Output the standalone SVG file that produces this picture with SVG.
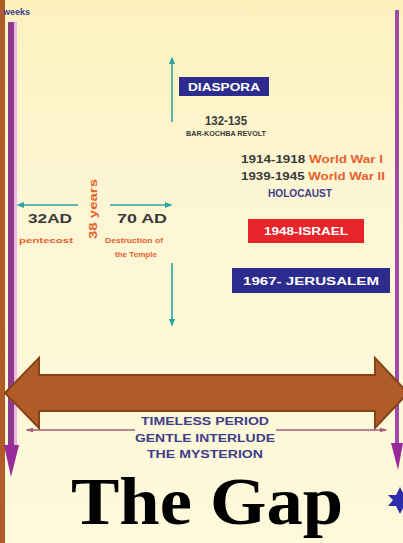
<svg xmlns="http://www.w3.org/2000/svg" width="403" height="543" viewBox="0 0 403 543">
<defs>
<linearGradient id="bg" x1="0" y1="0" x2="0" y2="1">
<stop offset="0" stop-color="#fdf1bd"/>
<stop offset="0.35" stop-color="#fdf6d4"/>
<stop offset="1" stop-color="#fdf9da"/>
</linearGradient>
<marker id="tealHead" viewBox="0 0 10 10" refX="8" refY="5" markerWidth="5" markerHeight="5" orient="auto-start-reverse">
<path d="M0,1 L10,5 L0,9 z" fill="#2aa5a0"/>
</marker>
<marker id="thinHead" viewBox="0 0 10 10" refX="8" refY="5" markerWidth="5" markerHeight="5" orient="auto-start-reverse">
<path d="M0,2 L10,5 L0,8 z" fill="#a0607a"/>
</marker>
<style>
.sans{font-family:"Liberation Sans",Arial,sans-serif;font-weight:bold}
.dark{fill:#3a3a3a}
.orange{fill:#e8602e}
.navy{fill:#3d3d8c}
.white{fill:#ffffff}
.teal{stroke:#2aa5a0;stroke-width:1.6;fill:none}
.boxblue{fill:#2d2c8e}
.boxred{fill:#e8242b}
</style>
</defs>
<rect x="0" y="0" width="403" height="543" fill="url(#bg)"/>

<g id="frame">
<rect x="0" y="0" width="5" height="543" fill="#b05c28"/>
<rect x="14" y="22" width="3" height="430" fill="#f2b6e6"/>
<rect x="8" y="22" width="6" height="430" fill="#8e3a8e"/>
<polygon points="4,445 19,445 11,477" fill="#9a2a9a"/>
<rect x="395" y="10" width="4" height="440" fill="#a04aa8"/>
<polygon points="391,443 403,443 398,470" fill="#9a2a9a"/>
<polygon points="400,487 404,495 412,495 407,500 412,506 404,506 400,514 396,506 388,506 393,500 388,495 396,495" fill="#2d2caa"/>
</g>

<g id="weeks">
<text x="3" y="15" class="sans navy" font-size="9">weeks</text>
</g>

<g id="connectors">
<line x1="172" y1="122" x2="172" y2="58" class="teal" marker-end="url(#tealHead)"/>
<line x1="172" y1="263" x2="172" y2="325" class="teal" marker-end="url(#tealHead)"/>
<line x1="78" y1="205" x2="18" y2="205" class="teal" marker-end="url(#tealHead)"/>
<line x1="110" y1="205" x2="171" y2="205" class="teal" marker-end="url(#tealHead)"/>
<line x1="27" y1="430" x2="135" y2="430" stroke="#a0607a" stroke-width="1.5" marker-start="url(#thinHead)"/>
<line x1="276" y1="430" x2="386" y2="430" stroke="#a0607a" stroke-width="1.5" marker-end="url(#thinHead)"/>
</g>

<g id="diaspora">
<rect x="179" y="77" width="90" height="19" class="boxblue"/>
<text x="224" y="91" text-anchor="middle" class="sans white" font-size="10" textLength="72" lengthAdjust="spacingAndGlyphs">DIASPORA</text>
</g>

<g id="barkochba">
<text x="226" y="125" text-anchor="middle" class="sans dark" font-size="13" textLength="42" lengthAdjust="spacingAndGlyphs">132-135</text>
<text x="226" y="136" text-anchor="middle" class="sans dark" font-size="7" textLength="80" lengthAdjust="spacingAndGlyphs">BAR-KOCHBA REVOLT</text>
</g>

<g id="wars">
<text x="241" y="163" class="sans" font-size="10" textLength="142" lengthAdjust="spacingAndGlyphs"><tspan class="dark">1914-1918 </tspan><tspan class="orange">World War I</tspan></text>
<text x="241" y="180" class="sans" font-size="10" textLength="144" lengthAdjust="spacingAndGlyphs"><tspan class="dark">1939-1945 </tspan><tspan class="orange">World War II</tspan></text>
<text x="300" y="197" text-anchor="middle" class="sans navy" font-size="10" textLength="64" lengthAdjust="spacingAndGlyphs">HOLOCAUST</text>
</g>

<g id="israel">
<rect x="248" y="219" width="116" height="24" class="boxred"/>
<text x="306" y="235" text-anchor="middle" class="sans white" font-size="11" textLength="84" lengthAdjust="spacingAndGlyphs">1948-ISRAEL</text>
</g>

<g id="jerusalem">
<rect x="232" y="268" width="158" height="25" class="boxblue"/>
<text x="311" y="285" text-anchor="middle" class="sans white" font-size="11" textLength="136" lengthAdjust="spacingAndGlyphs">1967- JERUSALEM</text>
</g>

<g id="pentecost">
<text x="50" y="223" text-anchor="middle" class="sans dark" font-size="12" textLength="44" lengthAdjust="spacingAndGlyphs">32AD</text>
<text x="46" y="243" text-anchor="middle" class="sans orange" font-size="8" textLength="54" lengthAdjust="spacingAndGlyphs">pentecost</text>
</g>

<g id="years38">
<text transform="translate(97,209) rotate(-90)" text-anchor="middle" class="sans orange" font-size="11" textLength="60" lengthAdjust="spacingAndGlyphs">38 years</text>
</g>

<g id="temple">
<text x="142" y="223" text-anchor="middle" class="sans dark" font-size="12" textLength="50" lengthAdjust="spacingAndGlyphs">70 AD</text>
<text x="134" y="243" text-anchor="middle" class="sans orange" font-size="8" textLength="58" lengthAdjust="spacingAndGlyphs">Destruction of</text>
<text x="136" y="257" text-anchor="middle" class="sans orange" font-size="8" textLength="42" lengthAdjust="spacingAndGlyphs">the Temple</text>
</g>

<g id="gap-arrow">
<polygon points="5,393 39,358 39,375 375,375 375,358 408,393 375,428 375,411 39,411 39,428" fill="#b05c28" stroke="#86431a" stroke-width="2" stroke-linejoin="miter"/>
</g>

<g id="timeless">
<text x="205" y="425" text-anchor="middle" class="sans navy" font-size="10.5" textLength="128" lengthAdjust="spacingAndGlyphs">TIMELESS PERIOD</text>
<text x="205" y="442" text-anchor="middle" class="sans navy" font-size="10.5" textLength="140" lengthAdjust="spacingAndGlyphs">GENTLE INTERLUDE</text>
<text x="205" y="458" text-anchor="middle" class="sans navy" font-size="10.5" textLength="116" lengthAdjust="spacingAndGlyphs">THE MYSTERION</text>
</g>

<g id="title">
<text x="207" y="524" text-anchor="middle" font-family="'Liberation Serif','Times New Roman',serif" font-weight="bold" font-size="68" textLength="272" lengthAdjust="spacingAndGlyphs" fill="#000">The Gap</text>
</g>
</svg>
